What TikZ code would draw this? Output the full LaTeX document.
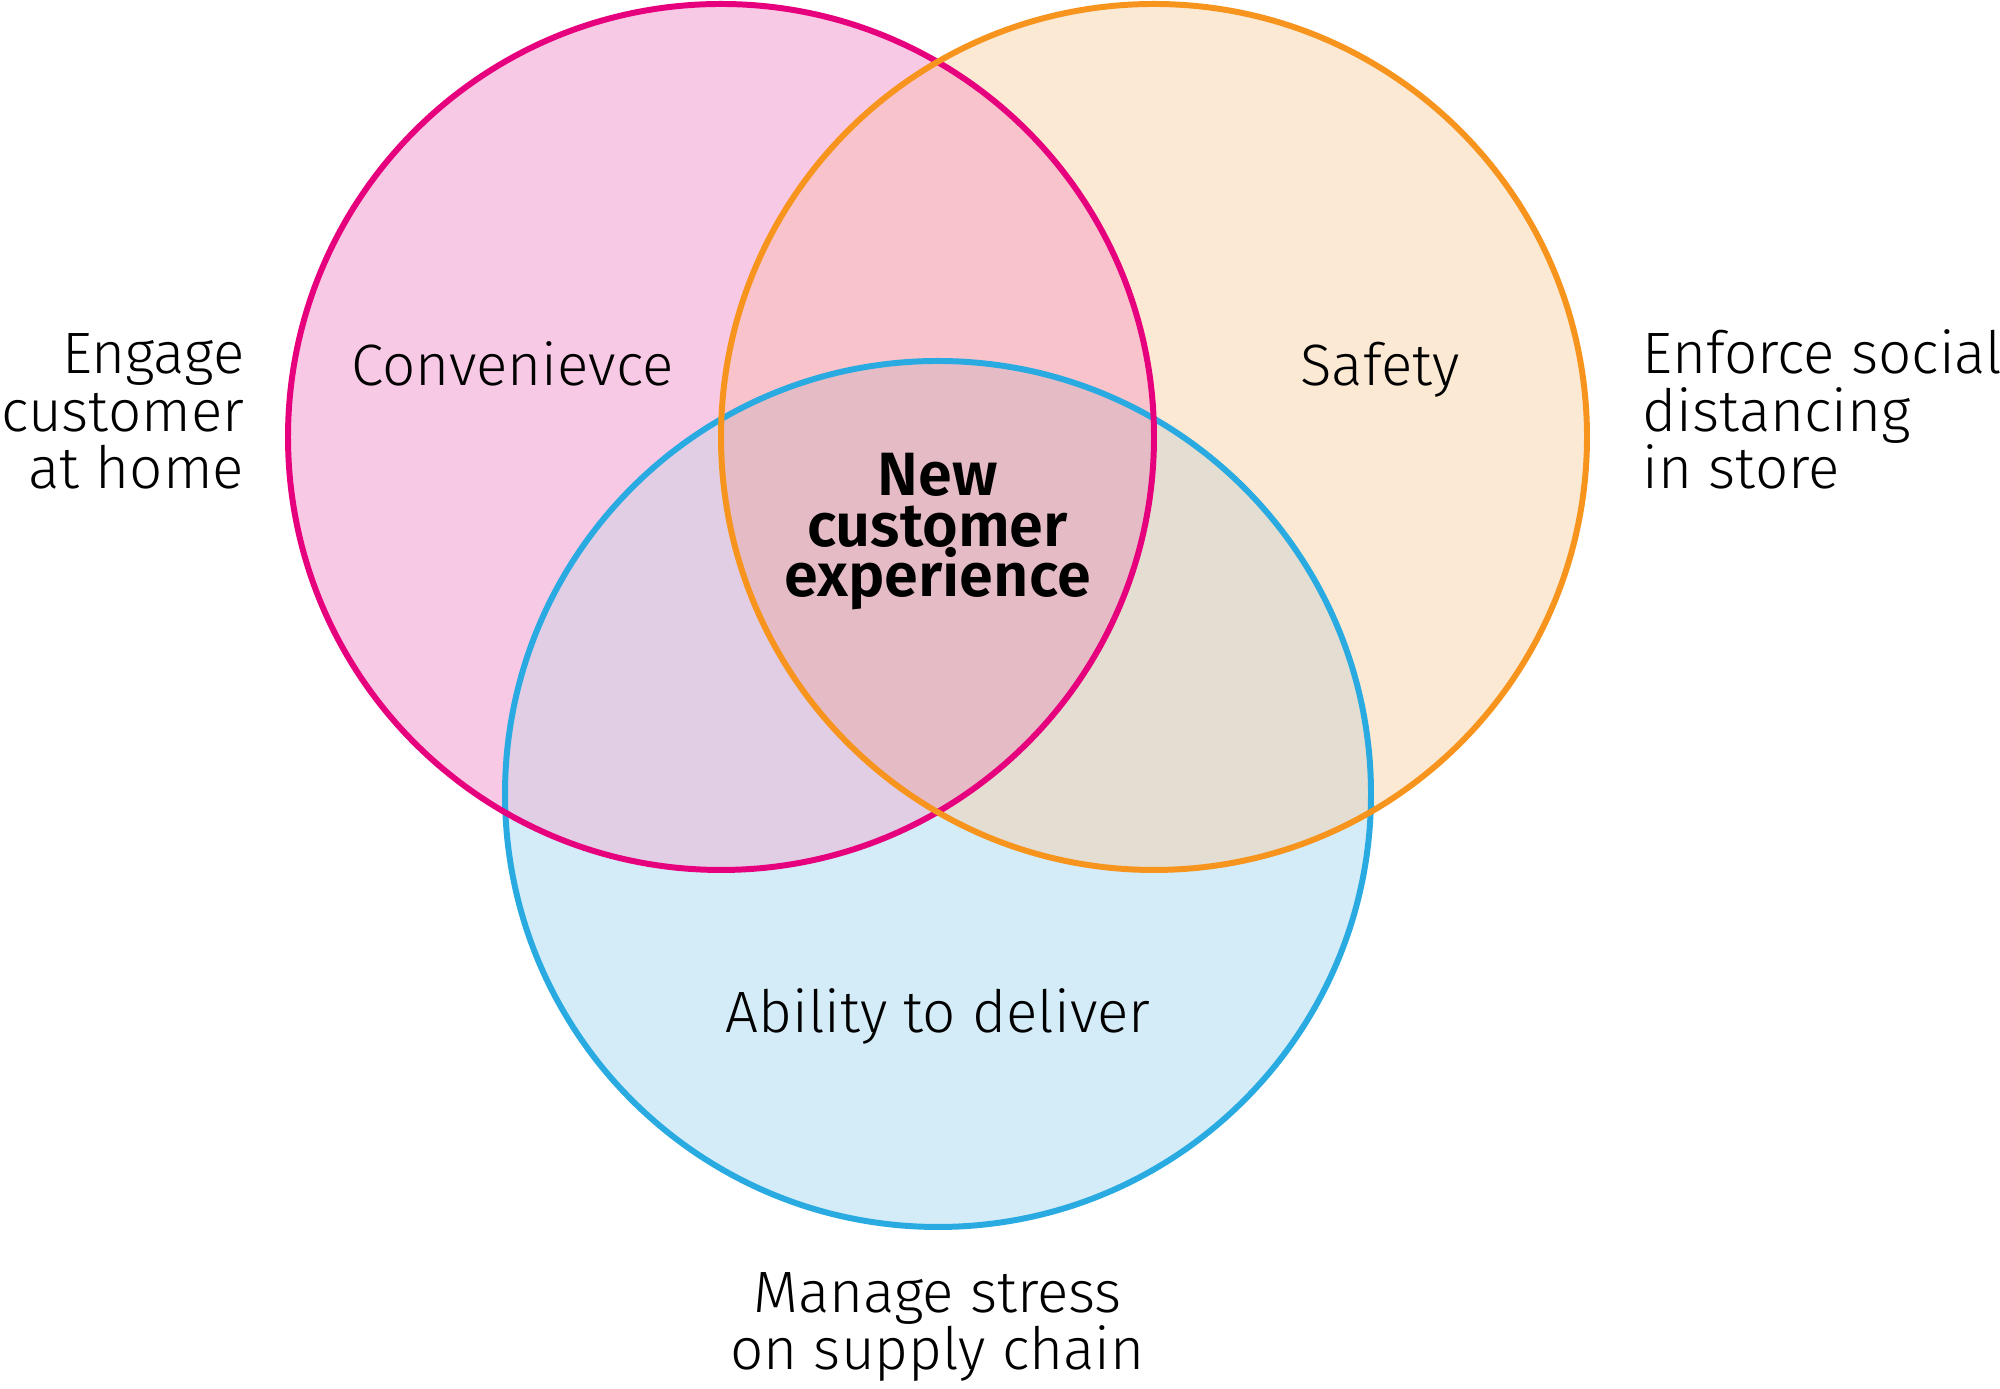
\documentclass[tikz,border=0pt]{standalone}
\usepackage{fontspec}
\setmainfont{Fira Sans}[UprightFont=* Light, BoldFont=* SemiBold]
\usetikzlibrary{positioning}
\definecolor{pinkline}{RGB}{230,0,126}
\definecolor{orangeline}{RGB}{247,148,29}
\definecolor{blueline}{RGB}{41,171,226}
\definecolor{pinkfill}{RGB}{248,201,229}
\definecolor{orangefill}{RGB}{252,233,212}
\definecolor{bluefill}{RGB}{212,236,248}
\definecolor{pofill}{RGB}{248,195,203}
\definecolor{pbfill}{RGB}{225,206,228}
\definecolor{obfill}{RGB}{228,221,209}
\definecolor{allfill}{RGB}{229,188,197}

\begin{document}
\begin{tikzpicture}[
  ring/.style={line width=1.7pt},
  lbl/.style={font=\fontsize{16.6}{16.4}\selectfont, inner sep=0pt},
  core/.style={font=\fontsize{17.4}{14.4}\selectfont\bfseries, inner sep=0pt, align=center}
]
\useasboundingbox (0,0) rectangle (20,13.89);
\coordinate (conv) at (7.21,9.52);
\coordinate (safe) at (11.54,9.52);
\coordinate (deliv) at (9.38,5.95);
\def\rad{4.33}

% fills
\fill[pinkfill] (conv) circle (\rad);
\fill[orangefill] (safe) circle (\rad);
\fill[bluefill] (deliv) circle (\rad);
\begin{scope}
  \clip (conv) circle (\rad);
  \fill[pofill] (safe) circle (\rad);
  \fill[pbfill] (deliv) circle (\rad);
\end{scope}
\begin{scope}
  \clip (safe) circle (\rad);
  \fill[obfill] (deliv) circle (\rad);
\end{scope}
\begin{scope}
  \clip (conv) circle (\rad);
  \clip (safe) circle (\rad);
  \fill[allfill] (deliv) circle (\rad);
\end{scope}

% outlines
\draw[ring, blueline] (deliv) circle (\rad);
\draw[ring, pinkline] (conv) circle (\rad);
\draw[ring, orangeline] (safe) circle (\rad);

% labels (multi-line nodes sit on their last baseline)
\node[lbl, anchor=base] (convlbl) at (5.125,10.03) {Convenievce};
\node[lbl, anchor=base] (safelbl) at (13.80,10.03) {Safety};
\node[lbl, anchor=base] (delivlbl) at (9.38,3.56) {Ability to deliver};
\node[core, anchor=base] (newcx) at (9.375,7.92) {New\\customer\\experience};

\node[lbl, align=right, anchor=base east] (home) at (2.45,9.00) {Engage\\customer\\at home};
\node[lbl, align=left, anchor=base west] (store) at (16.42,9.00) {Enforce social\\distancing\\in store};
\node[lbl, align=center, anchor=base] (supply) at (9.375,0.19) {Manage stress\\on supply chain};
\end{tikzpicture}
\end{document}
